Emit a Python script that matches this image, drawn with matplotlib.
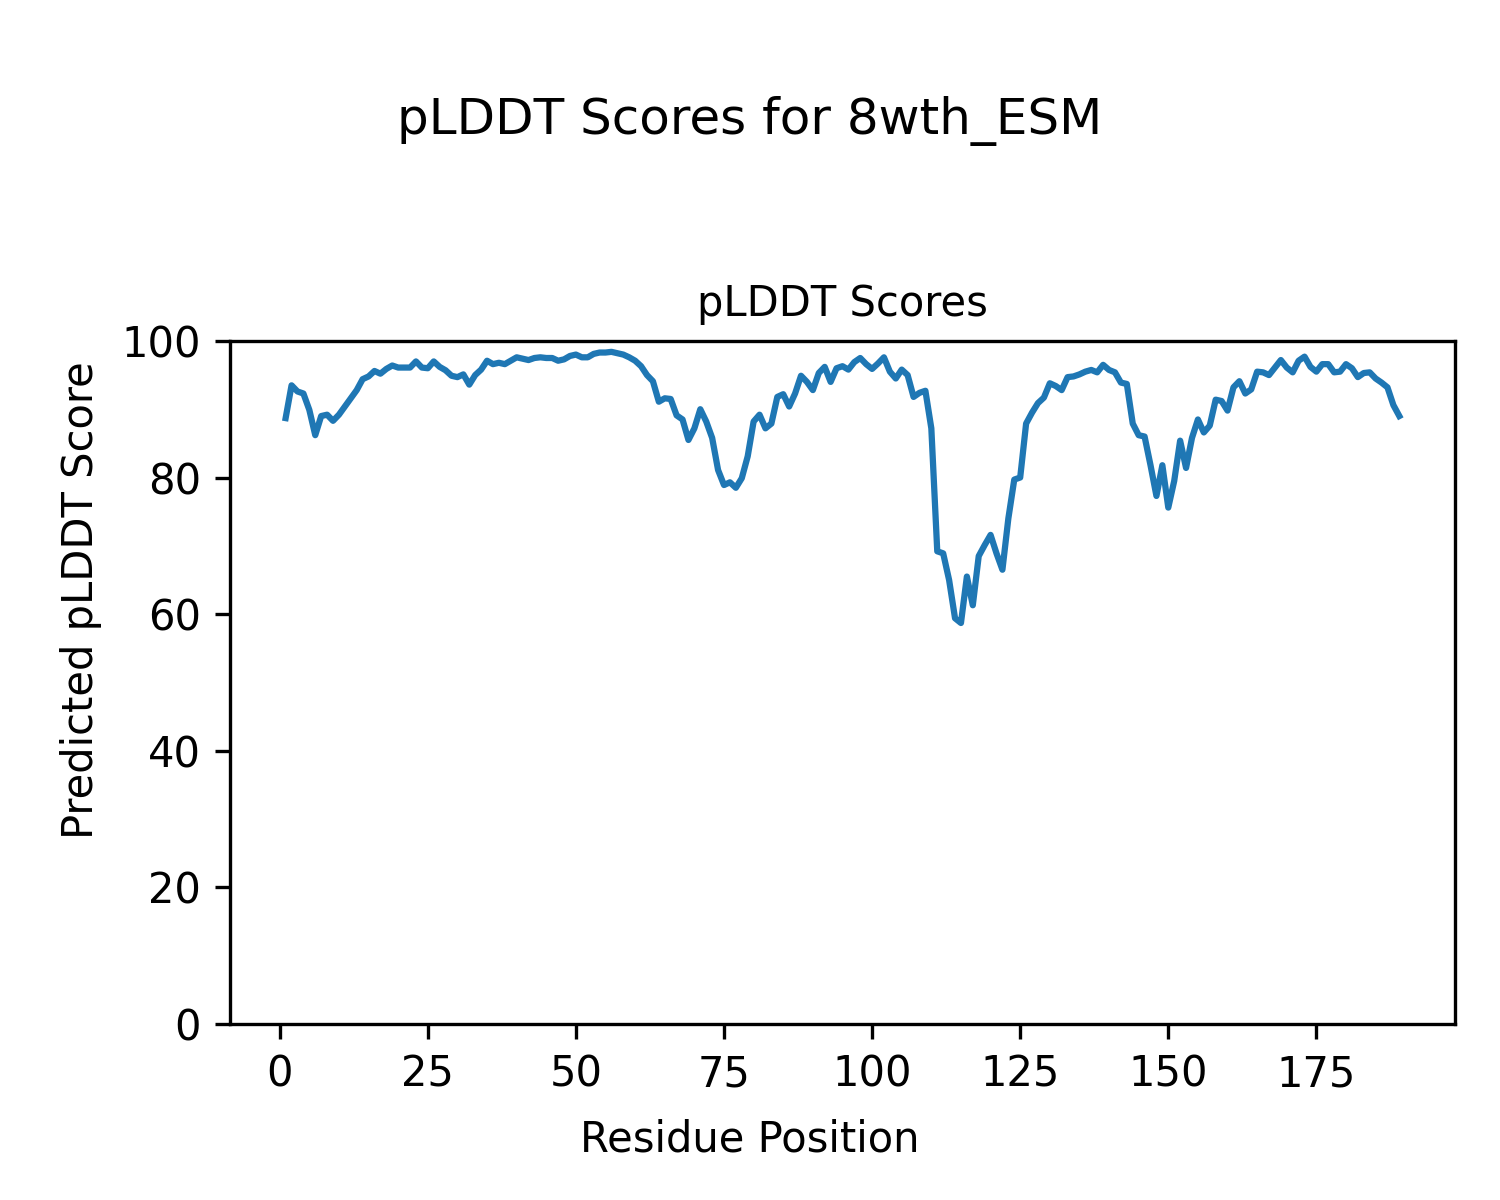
import matplotlib
matplotlib.use('Agg')
import matplotlib.pyplot as plt
import numpy as np

# pLDDT per residue
plddt = [
    88.7, 93.5, 92.6, 92.3, 89.9, 86.2, 89.0, 89.2, 88.3, 89.2,
    90.4, 91.6, 92.8, 94.4, 94.8, 95.6, 95.2, 95.9, 96.4, 96.1,
    96.1, 96.1, 97.0, 96.1, 96.0, 97.0, 96.2, 95.7, 94.9, 94.7,
    95.1, 93.6, 95.0, 95.8, 97.1, 96.6, 96.8, 96.6, 97.1, 97.6,
    97.4, 97.2, 97.5, 97.6, 97.5, 97.5, 97.1, 97.3, 97.8, 98.0,
    97.6, 97.6, 98.1, 98.3, 98.3, 98.4, 98.2, 98.0, 97.6, 97.1,
    96.3, 95.0, 94.1, 91.1, 91.6, 91.5, 89.1, 88.5, 85.5, 87.2,
    90.0, 88.2, 85.8, 81.1, 78.9, 79.3, 78.5, 79.9, 83.1, 88.2,
    89.2, 87.2, 87.9, 91.8, 92.2, 90.4, 92.3, 94.9, 94.0, 92.8,
    95.3, 96.2, 94.0, 96.0, 96.3, 95.8, 96.9, 97.5, 96.6, 95.9,
    96.7, 97.6, 95.5, 94.5, 95.8, 95.0, 91.8, 92.4, 92.7, 87.2,
    69.2, 68.9, 65.0, 59.4, 58.7, 65.5, 61.3, 68.5, 70.1, 71.6,
    68.9, 66.5, 74.0, 79.7, 80.0, 87.9, 89.5, 90.9, 91.7, 93.8,
    93.4, 92.8, 94.7, 94.8, 95.1, 95.5, 95.75, 95.4, 96.5, 95.75,
    95.4, 93.9, 93.7, 87.9, 86.2, 86.0, 81.8, 77.3, 81.8, 75.6,
    79.5, 85.4, 81.4, 85.8, 88.5, 86.6, 87.6, 91.4, 91.2, 89.8,
    93.2, 94.1, 92.3, 92.9, 95.5, 95.4, 95.0, 96.1, 97.2, 96.1,
    95.4, 97.1, 97.7, 96.2, 95.5, 96.6, 96.6, 95.4, 95.5, 96.6,
    96.0, 94.7, 95.3, 95.4, 94.5, 93.9, 93.2, 90.6, 89.0,
]
residues = np.arange(1, len(plddt) + 1)

fig = plt.figure(figsize=(5, 4), dpi=300)
ax = fig.add_axes([0.1533, 0.1467, 0.8167, 0.5692])
ax.plot(residues, plddt)
ax.set_ylim(0, 100)
ax.set_title('pLDDT Scores', fontsize=10)
fig.suptitle('pLDDT Scores for 8wth_ESM', y=0.92, va='top')
# shared-style labels placed on the figure, not the axes
fig.text(0.5, 0.04, 'Residue Position', ha='center')
fig.text(0.04, 0.5, 'Predicted pLDDT Score', va='center', rotation='vertical')

fig.savefig('out.png', dpi=300)
